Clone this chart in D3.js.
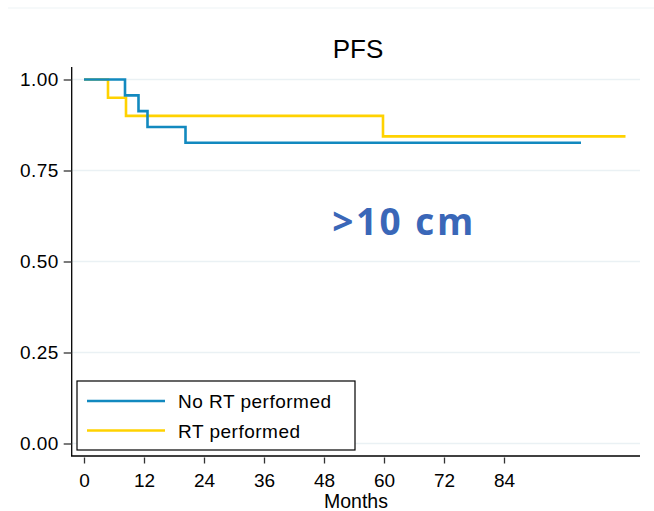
<!DOCTYPE html>
<html>
<head>
<meta charset="utf-8">
<script src="https://cdn.jsdelivr.net/npm/d3@7"></script>
<style>
  html, body { margin: 0; padding: 0; background: #fff; }
  svg { display: block; font-family: "Liberation Sans", Arial, sans-serif; }
</style>
</head>
<body>
<svg id="chart" width="654" height="511"></svg>
<script>
// Kaplan–Meier step data (time in months, survival probability)
const noRtTimes  = [0, 8.2, 10.9, 12.7, 20.3, 99.4];
const noRtSurv   = [1, 22/23, 21/23, 20/23, 19/23, 19/23];
const rtTimes    = [0, 4.8, 8.4, 59.8, 108.3];
const rtSurv     = [1, 0.95, 0.90, 0.84375, 0.84375];

const xTicks = [0, 12, 24, 36, 48, 60, 72, 84];
const yTicks = [0, 0.25, 0.5, 0.75, 1];
const seriesNames = ["No RT performed", "RT performed"];
const seriesColors = ["#1289bf", "#ffd200"];

const svg = d3.select("#chart");
const x = d3.scaleLinear().domain([0, 84]).range([84, 504]);
const y = d3.scaleLinear().domain([0, 1]).range([443.5, 79.5]);

// faint rule across the top
svg.append("line").attr("x1", 8).attr("x2", 654).attr("y1", 8).attr("y2", 8)
  .attr("stroke", "#eef3f5").attr("stroke-width", 1.2);

// horizontal gridlines
svg.append("g").selectAll("line").data(yTicks).join("line")
  .attr("x1", 72).attr("x2", 640)
  .attr("y1", d => y(d)).attr("y2", d => y(d))
  .attr("stroke", "#eaf1f4").attr("stroke-width", 1.5);

// title
svg.append("text").attr("x", 358).attr("y", 58).attr("text-anchor", "middle")
  .attr("font-size", 26).attr("fill", "#000").text("PFS");

// y axis
const yAxis = svg.append("g").attr("transform", "translate(71.7,0)")
  .call(d3.axisLeft(y).tickValues(yTicks).tickFormat(d3.format(".2f")).tickSize(8).tickPadding(5));
yAxis.attr("font-size", null).attr("font-family", null);
yAxis.select(".domain").attr("d", "M0,67V456").attr("stroke", "#000").attr("stroke-width", 1.3);
yAxis.selectAll(".tick line").attr("stroke", "#333").attr("stroke-width", 1.3);
yAxis.selectAll(".tick text").attr("font-size", 19).attr("fill", "#000").attr("letter-spacing", 0.4);

// x axis
const xAxis = svg.append("g").attr("transform", "translate(0,456)")
  .call(d3.axisBottom(x).tickValues(xTicks).tickSize(0).tickPadding(0));
xAxis.attr("font-size", null).attr("font-family", null);
xAxis.select(".domain").attr("d", "M71,0H640").attr("stroke", "#000").attr("stroke-width", 1.3);
xAxis.selectAll(".tick line").attr("y1", 1.5).attr("y2", 7.5).attr("stroke", "#333").attr("stroke-width", 1.3);
xAxis.selectAll(".tick text").attr("font-size", 19).attr("fill", "#000").attr("dy", null).attr("y", 30.5);

svg.append("text").attr("x", 356).attr("y", 508).attr("text-anchor", "middle")
  .attr("font-size", 19.5).attr("fill", "#000").text("Months");

// step curves
const line = d3.line().x(d => x(d[0])).y(d => y(d[1])).curve(d3.curveStepAfter);
const series = [
  d3.zip(noRtTimes, noRtSurv),
  d3.zip(rtTimes, rtSurv)
];
// draw RT first so the No-RT curve sits on top at shared segments
[1, 0].forEach(i => {
  svg.append("path").datum(series[i]).attr("d", line)
    .attr("fill", "none").attr("stroke", seriesColors[i]).attr("stroke-width", 2.6)
    .attr("stroke-linejoin", "miter");
});

// annotation
svg.append("text").attr("x", 404).attr("y", 235).attr("text-anchor", "middle")
  .attr("font-family", "'Open Sans', 'Noto Sans', sans-serif").attr("font-weight", 700)
  .attr("font-size", 37).attr("letter-spacing", 2.5).attr("fill", "#3a67b8").text(">10 cm");

// legend
const lg = svg.append("g");
lg.append("rect").attr("x", 77).attr("y", 381).attr("width", 278).attr("height", 69)
  .attr("fill", "#fff").attr("stroke", "#000").attr("stroke-width", 1.2);
seriesNames.forEach((name, i) => {
  const yy = 401 + i * 29.5;
  lg.append("line").attr("x1", 87).attr("x2", 165).attr("y1", yy).attr("y2", yy)
    .attr("stroke", seriesColors[i]).attr("stroke-width", 2.4);
  lg.append("text").attr("x", 178).attr("y", yy + 7).attr("font-size", 19)
    .attr("letter-spacing", 0.5).attr("fill", "#000").text(name);
});
</script>
</body>
</html>
